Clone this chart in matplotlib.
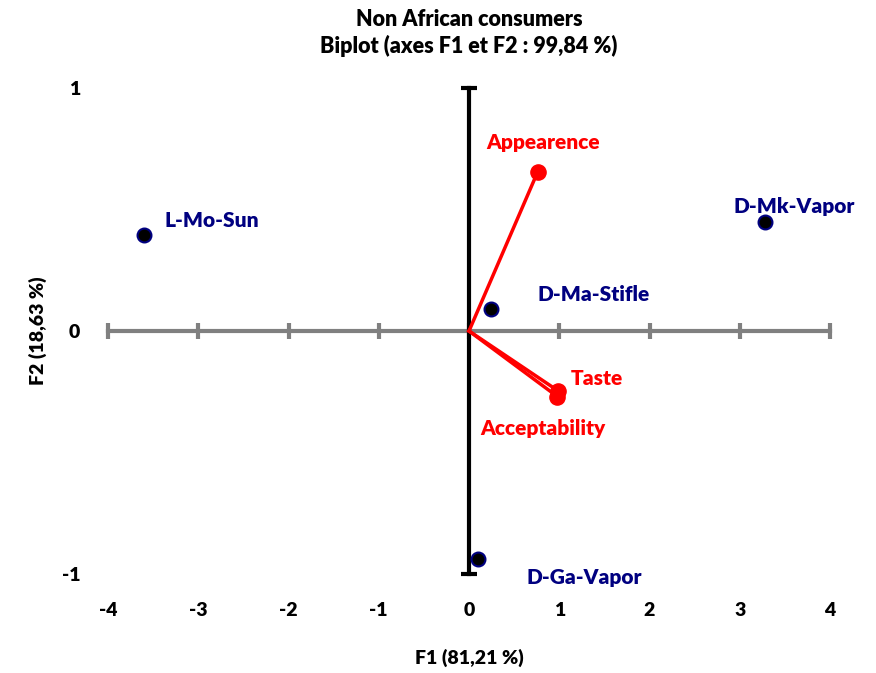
import matplotlib.pyplot as plt

plt.rcParams['font.family'] = ['Lato', 'DejaVu Sans']
plt.rcParams['font.weight'] = 'heavy'
plt.rcParams['axes.unicode_minus'] = False

# observations (F1, F2)
obs_names = ["L-Mo-Sun", "D-Mk-Vapor", "D-Ma-Stifle", "D-Ga-Vapor"]
obs_f1 = [-3.60, 3.28, 0.24, 0.10]
obs_f2 = [0.395, 0.45, 0.09, -0.94]

# variables (vectors)
var_names = ["Appearence", "Taste", "Acceptability"]
var_f1 = [0.76, 0.99, 0.98]
var_f2 = [0.654, -0.247, -0.27]

x_ticks = [-4, -3, -2, -1, 0, 1, 2, 3, 4]
y_ticks = [-1, 0, 1]

W = 'heavy'

fig = plt.figure(figsize=(8.76, 6.73), dpi=100)
ax = fig.add_axes([108 / 876, 1 - 574 / 673, (830 - 108) / 876, (574 - 88) / 673])
ax.set_xlim(-4, 4)
ax.set_ylim(-1, 1)
for s in ax.spines.values():
    s.set_visible(False)

# cross axes
ax.plot([-4, 4], [0, 0], color='#808080', lw=3, zorder=1, clip_on=False)
ax.plot(x_ticks, [0] * len(x_ticks), ls='none', marker='|', ms=12, mew=3,
        color='#808080', zorder=1, clip_on=False)
ax.plot([0, 0], [-1, 1], color='black', lw=3, zorder=2, clip_on=False)
ax.plot([0, 0], [-1, 1], ls='none', marker='_', ms=12, mew=3,
        color='black', zorder=2, clip_on=False)

ax.set_xticks(x_ticks)
ax.set_yticks(y_ticks)
ax.tick_params(length=0, labelsize=14)
ax.tick_params(axis='x', pad=20)
ax.tick_params(axis='y', pad=20)
for lab in ax.get_xticklabels() + ax.get_yticklabels():
    lab.set_fontweight(W)

# vectors
for x, y in zip(var_f1, var_f2):
    ax.plot([0, x], [0, y], color='red', lw=2.5, zorder=3)
ax.scatter(var_f1, var_f2, s=120, color='red', zorder=4)

# observations
ax.scatter(obs_f1, obs_f2, s=100, color='black', edgecolors='#000080', linewidths=1.5, zorder=5)

obs_off = [(20, 15), (-32, 15), (47, 15), (48, -18)]
for n, x, y, o in zip(obs_names, obs_f1, obs_f2, obs_off):
    ax.annotate(n, (x, y), xytext=o, textcoords='offset pixels', ha='left', va='center',
                color='#000080', fontsize=15, fontweight=W)

var_off = [(-51, 30), (12, 13), (-77, -32)]
for n, x, y, o in zip(var_names, var_f1, var_f2, var_off):
    ax.annotate(n, (x, y), xytext=o, textcoords='offset pixels', ha='left', va='center',
                color='red', fontsize=15, fontweight=W)

fig.text(469 / 876, 1 - 19 / 673, "Non African consumers", ha='center', va='center',
         fontsize=15.5, fontweight=W)
fig.text(469 / 876, 1 - 46 / 673, "Biplot (axes F1 et F2 : 99,84 %)", ha='center', va='center',
         fontsize=15.5, fontweight=W)
fig.text(469 / 876, 1 - 658 / 673, "F1 (81,21 %)", ha='center', va='center',
         fontsize=14, fontweight=W)
fig.text(38 / 876, 1 - 331 / 673, "F2 (18,63 %)", ha='center', va='center', rotation=90,
         fontsize=14, fontweight=W)

fig.savefig("out.png", dpi=100)
